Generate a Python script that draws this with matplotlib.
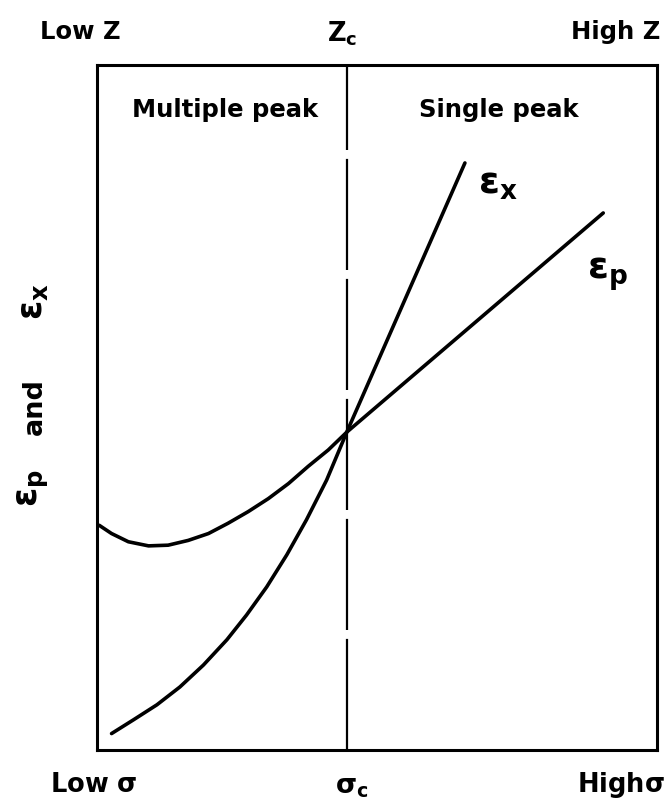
import numpy as np
import matplotlib
matplotlib.use("Agg")
import matplotlib.pyplot as plt

plt.rcParams['font.family'] = ['DejaVu Sans']
plt.rcParams['mathtext.fontset'] = 'dejavusans'
plt.rcParams['mathtext.default'] = 'bf'

# schematic values (0-100 units on both axes)
sigma_c = 44.6

ep_x = [0.4, 2.6, 5.6, 9.2, 12.7, 16.3, 19.9, 23.4, 27.0, 30.6, 34.2, 37.7, 41.3, 44.6, 90.4]
ep_y = [32.8, 31.6, 30.4, 29.8, 29.9, 30.6, 31.6, 33.1, 34.8, 36.7, 38.9, 41.4, 43.8, 46.4, 78.4]

ex_x = [2.6, 6.5, 10.7, 14.8, 19.0, 23.2, 26.7, 30.3, 33.9, 37.4, 41.0, 44.6, 65.7]
ex_y = [2.4, 4.4, 6.6, 9.2, 12.4, 16.1, 19.7, 23.8, 28.5, 33.6, 39.4, 46.4, 85.7]

top_labels = ['Low Z', r'$Z_c$', 'High Z']
bottom_labels = [r'Low $σ$', r'$σ_c$', r'High$σ$']
regions = ['Multiple peak', 'Single peak']
ylabel_parts = [r'$ε_p$', 'and', r'$ε_x$']

W, H = 671, 809
fig = plt.figure(figsize=(W / 100, H / 100), dpi=100)
ax = fig.add_axes([97 / W, 59 / H, 560 / W, 685 / H])
ax.set_xlim(0, 100)
ax.set_ylim(0, 100)
ax.set_xticks([])
ax.set_yticks([])
for s in ax.spines.values():
    s.set_linewidth(2.2)

ax.plot(ep_x, ep_y, color='black', lw=2.6, solid_capstyle='round', solid_joinstyle='round')
ax.plot(ex_x, ex_y, color='black', lw=2.6, solid_capstyle='round', solid_joinstyle='round')
ax.axvline(sigma_c, color='black', lw=1.6, dashes=(50, 4))

fs = 17.5
ax.text(ex_x[-1] + 2.3, ex_y[-1] - 3.0, r'$ε_x$', fontsize=27, va='center', ha='left')
ax.text(ep_x[-1] - 2.9, ep_y[-1] - 9.0, r'$ε_p$', fontsize=27, va='center', ha='left')

ax.text(sigma_c / 2 + 0.5, 93.5, regions[0], fontsize=fs, fontweight='bold', ha='center', va='center')
ax.text(sigma_c + (100 - sigma_c) / 2 - 0.5, 93.5, regions[1], fontsize=fs, fontweight='bold', ha='center', va='center')

fig.text(40 / W, 1 - 32 / H, top_labels[0], fontsize=fs, fontweight='bold', ha='left', va='center')
fig.text(342 / W, 1 - 34 / H, top_labels[1], fontsize=fs + 1, ha='center', va='center')
fig.text(660 / W, 1 - 32 / H, top_labels[2], fontsize=fs, fontweight='bold', ha='right', va='center')

fig.text(50 / W, 1 - 785 / H, bottom_labels[0], fontsize=fs + 1, fontweight='bold', ha='left', va='center')
fig.text(352 / W, 1 - 787 / H, bottom_labels[1], fontsize=fs + 2, ha='center', va='center')
fig.text(665 / W, 1 - 785 / H, bottom_labels[2], fontsize=fs + 1, fontweight='bold', ha='right', va='center')

# y label pieces, rotated
fig.text(33 / W, 1 - 488 / H, ylabel_parts[0], fontsize=25, rotation=90, ha='center', va='center')
fig.text(35 / W, 1 - 407 / H, ylabel_parts[1], fontsize=fs + 2, fontweight='bold', rotation=90,
         ha='center', va='center')
fig.text(33 / W, 1 - 302 / H, ylabel_parts[2], fontsize=25, rotation=90, ha='center', va='center')

fig.savefig('out.png', dpi=100)
